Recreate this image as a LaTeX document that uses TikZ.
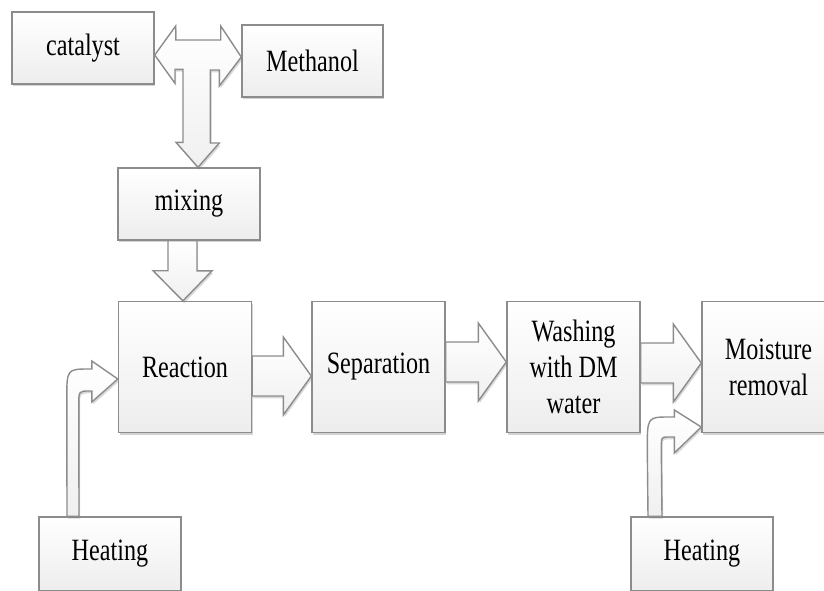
\documentclass[tikz,border=0pt]{standalone}
\usepackage{fontspec}
\setmainfont{Liberation Serif}[FakeStretch=0.78]
\usetikzlibrary{calc,shadows}
\tikzset{
  stage/.style={draw=black!45, line width=0.7pt, top color=white, bottom color=black!7,
    drop shadow={shadow xshift=0.6pt, shadow yshift=-1.2pt, opacity=0.35},
    inner sep=2pt, align=center, font=\fontsize{15.5}{18}\selectfont},
  fatarrow/.style={draw=black!45, line width=0.7pt, top color=white, bottom color=black!6,
    drop shadow={shadow xshift=0.6pt, shadow yshift=-1.2pt, opacity=0.3}},
}
% block arrow from the east side of #1 to the west side of #2, #3 = vertical offset
\newcommand\harrow[3]{%
  \draw[fatarrow] ($(#1.east)+(0,#3-20)$) -- ($(#2.west)+(-28,#3-20)$) -- ($(#2.west)+(-28,#3-39)$)
    -- ($(#2.west)+(0,#3)$) -- ($(#2.west)+(-28,#3+39)$) -- ($(#2.west)+(-28,#3+20)$)
    -- ($(#1.east)+(0,#3+20)$) -- cycle;}
\begin{document}
\begin{tikzpicture}[x=0.5pt, y=-0.5pt]
        \useasboundingbox (0,0) rectangle (824,590);
        \node [stage, minimum width=71pt, minimum height=36pt] (cat) at (83,48) {catalyst};
        \node [stage, minimum width=70.5pt, minimum height=36pt] (meth) at (312.5,61) {Methanol};
        \node [stage, minimum width=71pt, minimum height=36pt] (mix) at (189,204) {mixing};
        \node [stage, minimum width=66.5pt, minimum height=65.5pt] (react) at (185,367) {Reaction};
        \node [stage, minimum width=66.5pt, minimum height=65.5pt] (sep) at (378.5,367) {Separation};
        \node [stage, minimum width=66.5pt, minimum height=65.5pt] (wash) at (573.5,367) {Washing\\with DM\\water};
        \node [stage, minimum width=66.5pt, minimum height=65.5pt] (moist) at (768.5,367) {Moisture\\removal};
        \node [stage, minimum width=71pt, minimum height=37pt] (heata) at (110,554) {Heating};
        \node [stage, minimum width=71pt, minimum height=37pt] (heatb) at (702,554) {Heating};
        % T shaped arrow
        \draw [fatarrow] ($(cat.east)+(0,7)$) -- ++(21,-29) -- ++(0,14) -- ++(45,0) -- ++(0,-14)
            -- ($(meth.west)+(0,-4)$) -- ++(-22,29) -- ++(0,-16) -- ++(-9,0) -- ++(0,73) -- ++(9,0)
            -- ($(mix.north)+(9,0)$) -- ++(-22,-25) -- ++(7,0) -- ++(0,-73) -- ++(-8,0) -- ++(0,14) -- cycle;
        \draw [fatarrow] ($(mix.south)+(-21,0)$) -- ++(0,30) -- ++(-15,0) -- ($(react.north)+(-2,0)$)
            -- ++(29,-30) -- ++(-15,0) -- ($(mix.south)+(8,0)$) -- cycle;
        \harrow{react}{sep}{9}
        \harrow{sep}{wash}{-5}
        \harrow{wash}{moist}{-4}
        % bent heating arrows
        \coordinate (ta) at ($(react.west)+(0,12)$);
        \draw [fatarrow] ($(heata.north)+(-43,0)$) -- ($(ta)+(-51,20)$) .. controls ($(ta)+(-51,-10)$) .. ($(ta)+(-28,-10)$)
            -- ($(ta)+(-26,-10)$) -- ($(ta)+(-26,-18)$) -- (ta) -- ($(ta)+(-26,23)$) -- ($(ta)+(-26,12)$)
            -- ($(ta)+(-28,12)$) .. controls ($(ta)+(-39,12)$) .. ($(ta)+(-39,25)$) -- ($(heata.north)+(-31,0)$) -- cycle;
        \coordinate (tb) at ($(moist.west)+(0,60)$);
        \draw [fatarrow] ($(heatb.north)+(-54,0)$) -- ($(tb)+(-54,22)$) .. controls ($(tb)+(-54,-10)$) .. ($(tb)+(-32,-10)$)
            -- ($(tb)+(-27,-10)$) -- ($(tb)+(-27,-17)$) -- (tb) -- ($(tb)+(-27,26)$) -- ($(tb)+(-27,10)$)
            -- ($(tb)+(-34,10)$) .. controls ($(tb)+(-40,10)$) .. ($(tb)+(-40,24)$) -- ($(heatb.north)+(-40,0)$) -- cycle;
\end{tikzpicture}
\end{document}
